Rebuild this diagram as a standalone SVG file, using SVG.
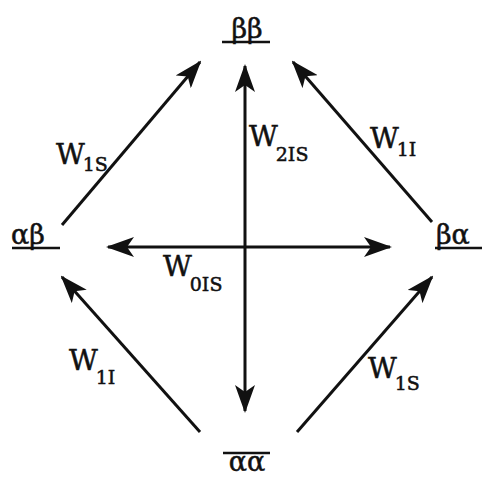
<svg xmlns="http://www.w3.org/2000/svg" width="482" height="477" viewBox="0 0 482 477">
<style>
.l{stroke:#111;stroke-width:3;fill:none}
.t{font-family:"DejaVu Serif","Liberation Serif",serif;fill:#111;stroke:#111;stroke-width:0.5}
.w{font-size:28px}
.s{font-size:19px}
.g{font-size:27px}
.u{stroke:#111;stroke-width:2.5}
</style>
<defs>
<marker id="ah" markerUnits="userSpaceOnUse" viewBox="0 0 28 20" markerWidth="28" markerHeight="20" refX="26" refY="10" orient="auto-start-reverse">
<path d="M0,0 L28,10 L0,20 L7,10 z" fill="#111"/>
</marker>
</defs>
<rect width="482" height="477" fill="#fff"/>
<g id="connectors">
<line class="l" x1="245" y1="66" x2="245" y2="411" marker-start="url(#ah)" marker-end="url(#ah)"/>
<line class="l" x1="108" y1="247" x2="390" y2="247" marker-start="url(#ah)" marker-end="url(#ah)"/>
<line class="l" x1="62" y1="225" x2="200" y2="62" marker-end="url(#ah)"/>
<line class="l" x1="432" y1="222" x2="293" y2="62" marker-end="url(#ah)"/>
<line class="l" x1="200" y1="432" x2="62" y2="277" marker-end="url(#ah)"/>
<line class="l" x1="297" y1="432" x2="432" y2="277" marker-end="url(#ah)"/>
</g>
<g id="bb">
<text class="t g" x="247" y="38" text-anchor="middle">ββ</text>
<line class="u" x1="222" y1="42" x2="270" y2="42"/>
</g>
<g id="ab">
<text class="t g" x="11" y="244">αβ</text>
<line class="u" x1="12" y1="248" x2="60" y2="248"/>
</g>
<g id="ba">
<text class="t g" x="436" y="244">βα</text>
<line class="u" x1="435" y1="248" x2="482" y2="248"/>
</g>
<g id="aa">
<text class="t g" x="247" y="471" text-anchor="middle">αα</text>
<line class="u" x1="223" y1="453" x2="270" y2="453"/>
</g>
<g id="labels">
<text class="t" x="56" y="164"><tspan class="w">W</tspan><tspan class="s" dx="-2" dy="7">1S</tspan></text>
<text class="t" x="249" y="146"><tspan class="w">W</tspan><tspan class="s" dx="-2" dy="15">2IS</tspan></text>
<text class="t" x="370" y="148"><tspan class="w">W</tspan><tspan class="s" dx="-2" dy="8">1I</tspan></text>
<text class="t" x="163" y="276"><tspan class="w">W</tspan><tspan class="s" dx="-2" dy="15">0IS</tspan></text>
<text class="t" x="69" y="370"><tspan class="w">W</tspan><tspan class="s" dx="-2" dy="14">1I</tspan></text>
<text class="t" x="368" y="378"><tspan class="w">W</tspan><tspan class="s" dx="-2" dy="12">1S</tspan></text>
</g>
</svg>
